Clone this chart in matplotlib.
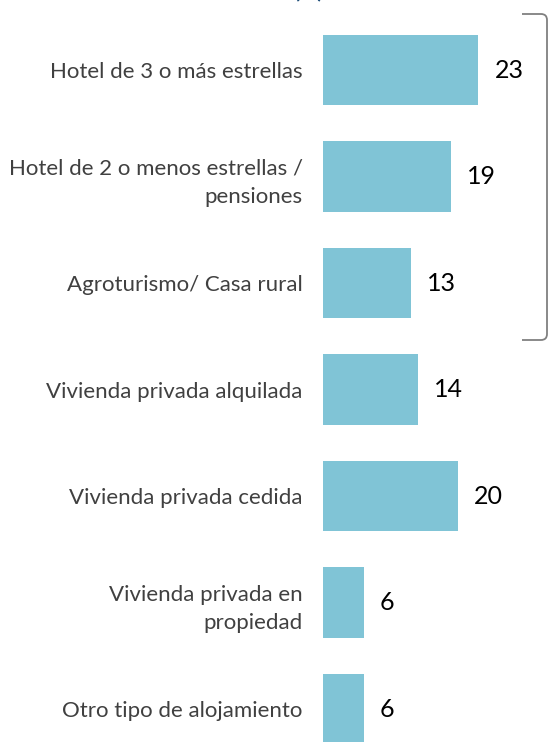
import matplotlib
matplotlib.use("Agg")
import matplotlib.pyplot as plt
from matplotlib.path import Path
from matplotlib.patches import PathPatch

categories = [
    "Hotel de 3 o más estrellas",
    "Hotel de 2 o menos estrellas /\npensiones",
    "Agroturismo/ Casa rural",
    "Vivienda privada alquilada",
    "Vivienda privada cedida",
    "Vivienda privada en\npropiedad",
    "Otro tipo de alojamiento",
]
values = [23, 19, 13, 14, 20, 6, 6]
title = "(%)"

W, H = 550, 742
fig = plt.figure(figsize=(W / 100, H / 100), dpi=100)
plt.rcParams['font.family'] = ['Lato', 'DejaVu Sans']

# axes placement in pixels
x0 = 323
px_per_unit = 6.75
xmax = 30
top_px = 70 - 106.5 * 0.5
bot_px = 709 + 106.5 * 0.5
ax = fig.add_axes([x0 / W, (H - bot_px) / H, xmax * px_per_unit / W, (bot_px - top_px) / H])

bar_color = "#80C4D6"
ypos = list(range(len(categories)))
ax.barh(ypos, values, height=0.66, color=bar_color, edgecolor="none")
ax.set_xlim(0, xmax)
ax.set_ylim(len(categories) - 0.5, -0.5)

for y, v in zip(ypos, values):
    ax.text(v + 2.4, y, f"{v}", va="center", ha="left", fontsize=18, color="black")

ax.set_yticks(ypos)
ax.set_yticklabels(categories, fontsize=16, color="#404040", linespacing=1.5)
ax.tick_params(axis="y", length=0, pad=14.5)
ax.set_xticks([])
for s in ax.spines.values():
    s.set_visible(False)

# bracket on the right (figure pixel coordinates)
def fx(p):
    return p / W

def fy(p):
    return (H - p) / H

r = 6
verts = [
    (fx(522), fy(14)),
    (fx(547 - r), fy(14)),
    (fx(547), fy(14)), (fx(547), fy(14 + r)),
    (fx(547), fy(340 - r)),
    (fx(547), fy(340)), (fx(547 - r), fy(340)),
    (fx(522), fy(340)),
]
codes = [Path.MOVETO, Path.LINETO, Path.CURVE3, Path.CURVE3, Path.LINETO,
         Path.CURVE3, Path.CURVE3, Path.LINETO]
fig.patches.append(PathPatch(Path(verts, codes), transform=fig.transFigure,
                             facecolor="none", edgecolor="#808080", lw=1.3))

# title cut off at top (as in the reference)
fig.text(fx(308), fy(-2.5), title, ha="center", va="baseline", fontsize=16,
         color="#1F4E79", fontweight="bold")

fig.savefig("out.png", dpi=100)
